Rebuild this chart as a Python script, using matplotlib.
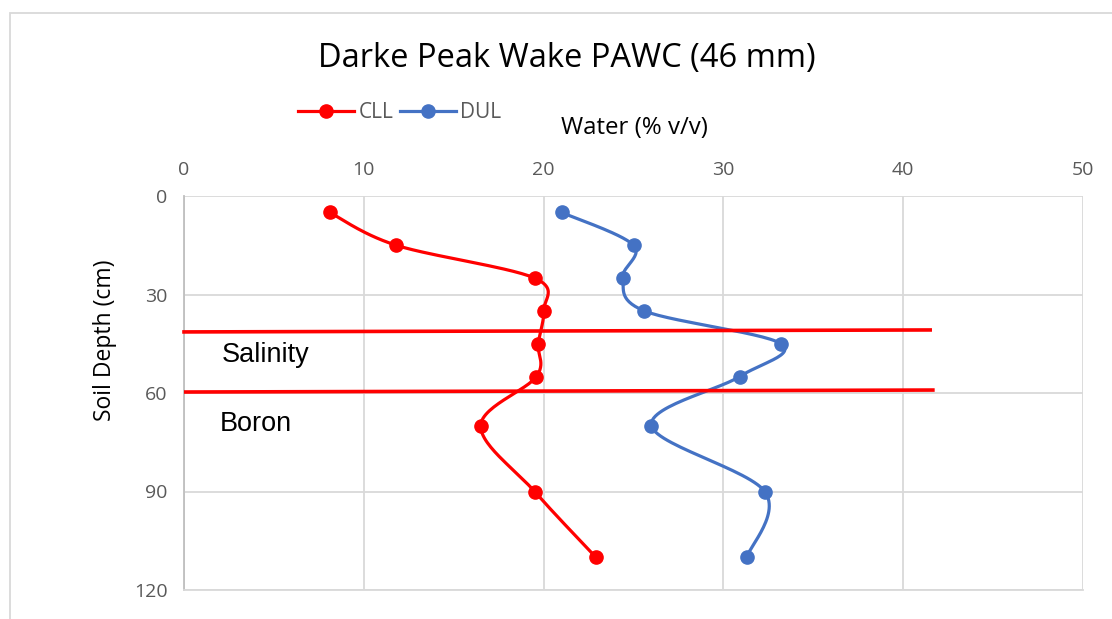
import numpy as np
import matplotlib
matplotlib.use("Agg")
import matplotlib.pyplot as plt
from matplotlib.patches import Rectangle
from matplotlib.lines import Line2D

# ---------- datos ----------
depth = [5, 15, 25, 35, 45, 55, 70, 90, 110]
cll = [8.1, 11.8, 19.5, 20.0, 19.7, 19.6, 16.5, 19.5, 22.9]
dul = [21.0, 25.0, 24.4, 25.6, 33.2, 30.9, 26.0, 32.3, 31.3]

# límites de capas (dibujadas a mano en el original, ligeramente inclinadas)
salinity_line = ([0.0, 41.5], [41.4, 40.8])
boron_line = ([0.1, 41.65], [59.7, 59.1])

x_ticks = [0, 10, 20, 30, 40, 50]
y_ticks = [0, 30, 60, 90, 120]

C_CLL = "#ff0000"
C_DUL = "#4472c4"
C_GRID = "#d9d9d9"
C_TICK = "#595959"

W, H = 1112, 619
fig = plt.figure(figsize=(W / 100, H / 100), dpi=100)
ax = fig.add_axes([184 / W, 1 - 590 / H, (1083 - 184) / W, (590 - 196) / H])

# marco del gráfico
fig.patches.append(Rectangle((10 / W, -0.1), 1.2, 1 - 13 / H + 0.1, transform=fig.transFigure,
                             fill=False, edgecolor=C_GRID, linewidth=1.3))


def smooth(xs, ys, sx, sy, n=30):
    """Curva suave tipo Excel (Catmull-Rom / Bezier) en espacio de pixeles."""
    p = np.column_stack([np.asarray(xs) * sx, np.asarray(ys) * sy])
    out = []
    for i in range(len(p) - 1):
        p0 = p[i - 1] if i > 0 else p[i]
        p1, p2 = p[i], p[i + 1]
        p3 = p[i + 2] if i + 2 < len(p) else p[i + 1]
        c1 = p1 + (p2 - p0) / 6
        c2 = p2 - (p3 - p1) / 6
        t = np.linspace(0, 1, n)[:, None]
        seg = ((1 - t) ** 3) * p1 + 3 * ((1 - t) ** 2) * t * c1 + 3 * (1 - t) * t ** 2 * c2 + t ** 3 * p2
        out.append(seg if i == 0 else seg[1:])
    out = np.vstack(out)
    return out[:, 0] / sx, out[:, 1] / sy


sx = (1083 - 184) / 50.0
sy = (590 - 196) / 120.0

for vals, col in ((cll, C_CLL), (dul, C_DUL)):
    xs, ys = smooth(vals, depth, sx, sy)
    ax.plot(xs, ys, color=col, linewidth=2.3, zorder=3, solid_capstyle="round")
    ax.plot(vals, depth, "o", color=col, markersize=9.5, zorder=4)

# líneas de capas
for lx, ly in (salinity_line, boron_line):
    ax.plot(lx, ly, color=C_CLL, linewidth=2.6, zorder=5, clip_on=False)

ax.text(2.1, 48.3, "Salinity", family="Liberation Sans", fontsize=19.5, color="black", va="center")
ax.text(2.0, 69.5, "Boron", family="Liberation Sans", fontsize=19.5, color="black", va="center")

ax.set_xlim(0, 50)
ax.set_ylim(120, 0)
ax.set_xticks(x_ticks)
ax.set_yticks(y_ticks)
ax.xaxis.tick_top()
ax.tick_params(length=0, labelsize=14, labelcolor=C_TICK, pad=12)
for lab in ax.get_xticklabels() + ax.get_yticklabels():
    lab.set_family("Open Sans")
ax.grid(True, color=C_GRID, linewidth=1.3)
ax.set_axisbelow(True)
for s in ("top", "right"):
    ax.spines[s].set_visible(False)
ax.spines["left"].set_color("#bfbfbf")
ax.spines["bottom"].set_color(C_GRID)
ax.spines["left"].set_linewidth(1.3)
ax.spines["bottom"].set_linewidth(1.3)

fig.text(634 / W, 1 - 128 / H, "Water (% v/v)", family="Open Sans", fontsize=17.3,
         ha="center", va="center", color="black")
fig.text(105 / W, 1 - 340 / H, "Soil Depth (cm)", family="Open Sans", fontsize=16.5,
         rotation=90, ha="center", va="center", color="black")
fig.text(567 / W, 1 - 58 / H, "Darke Peak Wake PAWC (46 mm)", family="Open Sans", fontsize=23.5,
         ha="center", va="center", color="black")

handles = [Line2D([], [], color=C_CLL, linewidth=2.3, marker="o", markersize=9.5),
           Line2D([], [], color=C_DUL, linewidth=2.3, marker="o", markersize=9.5)]
leg = fig.legend(handles, ["CLL", "DUL"], loc="center left", bbox_to_anchor=(298 / W, 1 - 113 / H),
                 ncol=2, frameon=False, handlelength=2.7, handletextpad=0.2, columnspacing=0.3,
                 borderpad=0, borderaxespad=0, prop={"family": "Open Sans", "size": 15})
for t in leg.get_texts():
    t.set_color(C_TICK)

fig.savefig("out.png", dpi=100, facecolor="white")
